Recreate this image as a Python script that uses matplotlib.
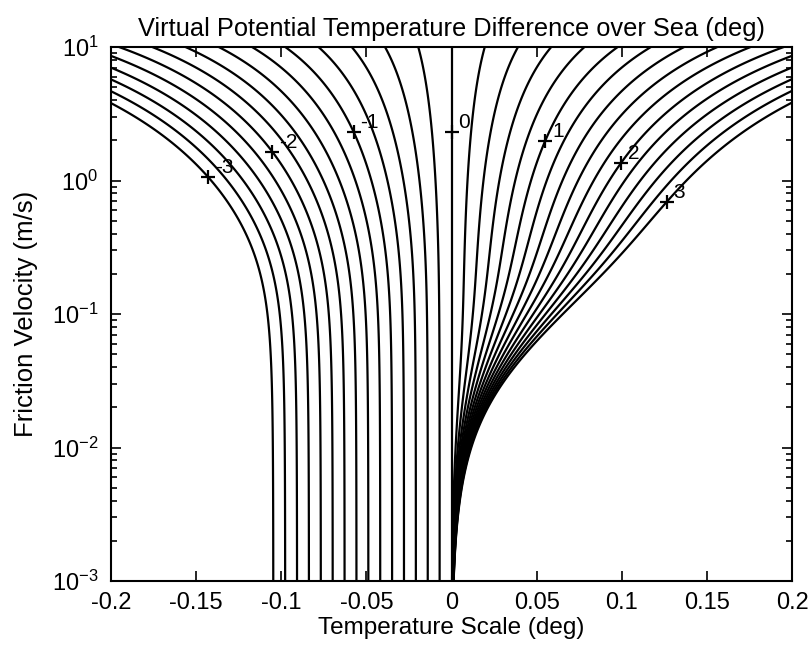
import numpy as np
import matplotlib
matplotlib.use("Agg")
import matplotlib.pyplot as plt

# ---- data / model parameters ----
levels = np.round(np.arange(-3.0, 3.0001, 0.2), 2)          # contour levels (deg)
label_levels = [-3, -2, -1, 0, 1, 2, 3]                     # labelled contours
label_ustar = [1.07, 1.64, 2.32, 2.32, 1.99, 1.36, 0.69]    # u* where labels sit (m/s)
theta_range = [-0.2, 0.2]
ustar_range = [1e-3, 1e1]
xticks = [-0.2, -0.15, -0.1, -0.05, 0, 0.05, 0.1, 0.15, 0.2]
xticklabels = ['-0.2', '-0.15', '-0.1', '-0.05', '0', '0.05', '0.1', '0.15', '0.2']

# surface-layer constants
karman = 0.4
z_ref = 10.0
grav = 9.8
temp_ref = 288.0
z0_smooth = 1.05e-4
z0_lin = 3e-4
charnock = 0.016
beta_inf = 5.5
beta_extra = 5.0


def dtheta(theta, ustar):
    z0t = z0_smooth + z0_lin * ustar + charnock * ustar**2 / grav
    neutral = np.log(z_ref / z0t)
    zeta = np.maximum(z_ref * karman * grav * theta / (ustar**2 * temp_ref), 0.0)
    stab = zeta * (beta_inf + beta_extra / (1.0 + zeta))
    return theta / karman * (neutral + stab)


# grid (denser near zero)
s = np.linspace(-1, 1, 1601)
th = theta_range[1] * np.sign(s) * np.abs(s)**2
us = np.logspace(np.log10(ustar_range[0]), np.log10(ustar_range[1]), 600)
TH, US = np.meshgrid(th, us)
DT = dtheta(TH, US)

fig = plt.figure(figsize=(8.08, 6.52), dpi=100)
ax = fig.add_axes([0.1374, 0.1089, 0.9802 - 0.1374, 0.9279 - 0.1089])
ax.contour(TH, US, DT, levels=levels, colors='black', linewidths=1.6,
           linestyles='solid')
ax.set_yscale('log')
ax.set_xlim(theta_range)
ax.set_ylim(ustar_range)

# contour labels with '+' markers
for lev, u in zip(label_levels, label_ustar):
    if lev == 0:
        t = 0.0
    else:
        lo, hi = (0.0, 0.2) if lev > 0 else (-0.2, 0.0)
        for _ in range(60):
            mid = 0.5 * (lo + hi)
            if dtheta(np.array(mid), u) > lev:
                hi = mid
            else:
                lo = mid
        t = 0.5 * (lo + hi)
    ax.plot([t], [u], marker='+', color='black', markersize=10, mew=1.6)
    ax.annotate(str(lev), (t, u), xytext=(5, 0), textcoords='offset points',
                ha='left', va='bottom', fontsize=15, family='Liberation Sans')

ax.set_xticks(xticks)
ax.set_xticklabels(xticklabels)
ax.tick_params(which='both', direction='in', top=True, right=True, labelsize=17,
               width=1.2)
ax.tick_params(axis='x', pad=8)
ax.tick_params(axis='y', pad=9)
ax.tick_params(which='major', length=7)
ax.tick_params(which='minor', length=4)
for lab in ax.get_xticklabels() + ax.get_yticklabels():
    lab.set_family('Liberation Sans')
for sp in ax.spines.values():
    sp.set_linewidth(1.5)

ax.set_title('Virtual Potential Temperature Difference over Sea (deg)',
             fontsize=18.3, family='Liberation Sans', pad=8)
ax.set_xlabel('Temperature Scale (deg)', fontsize=17.5, family='Liberation Sans',
              labelpad=2)
ax.set_ylabel('Friction Velocity (m/s)', fontsize=18.5, family='Liberation Sans',
              labelpad=10)

fig.savefig('out.png', dpi=100)
